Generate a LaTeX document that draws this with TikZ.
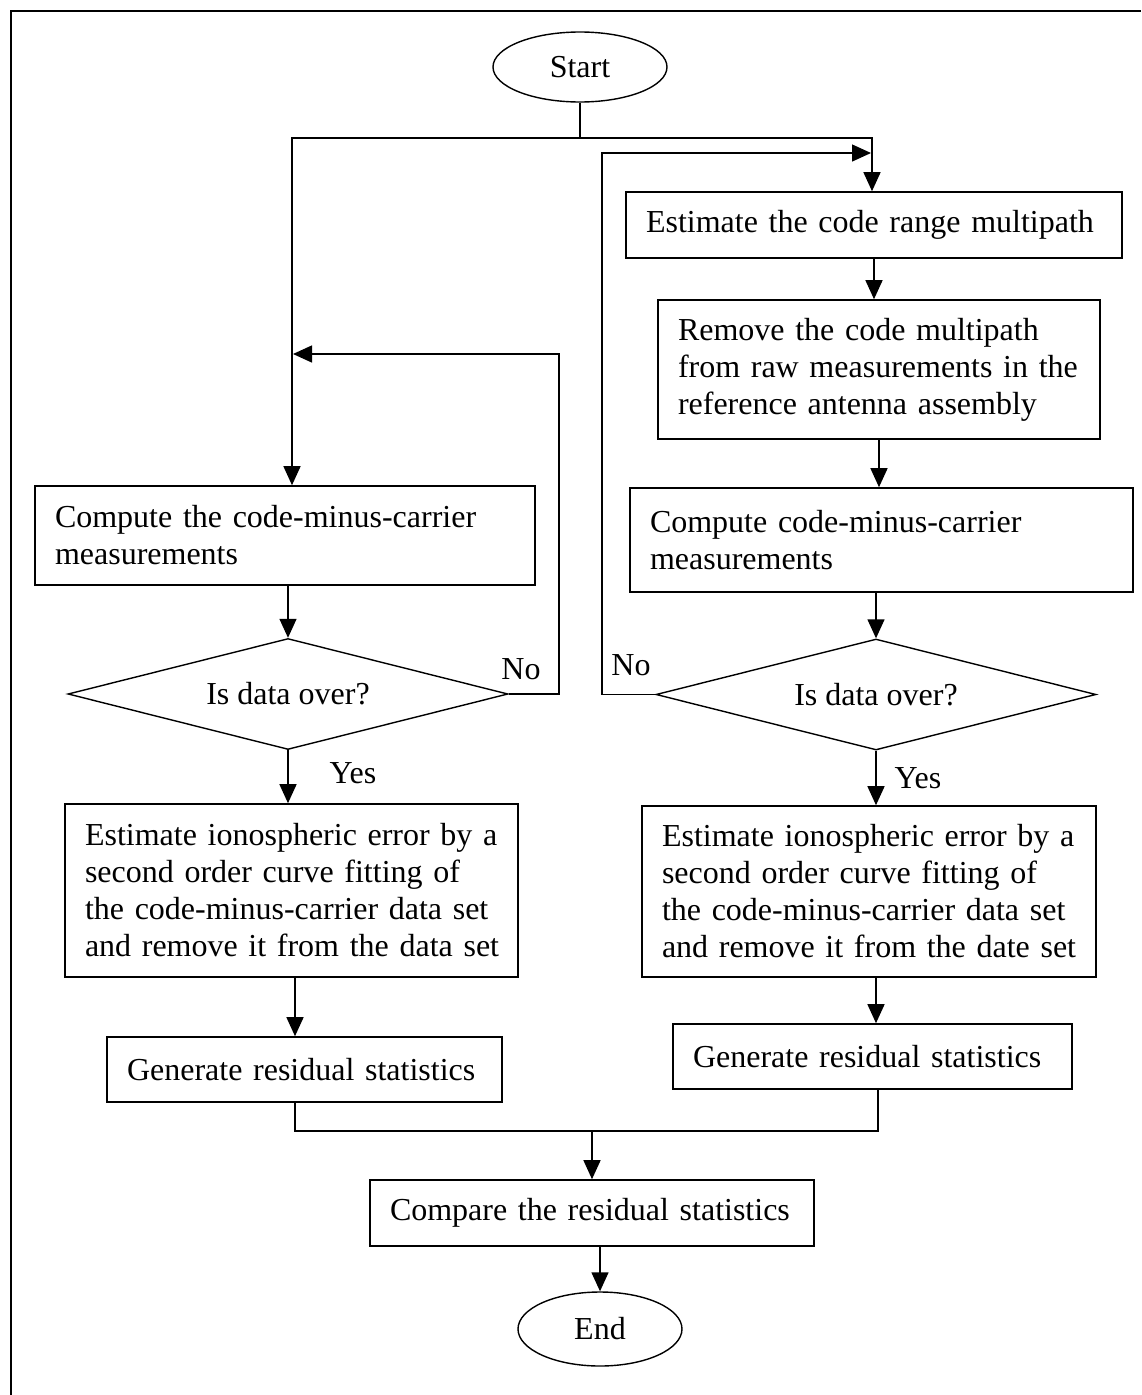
\documentclass[tikz,border=0pt]{standalone}
\usepackage{fontspec}
\setmainfont{Liberation Serif}
\usetikzlibrary{shapes.geometric,arrows.meta}
% text face of the chart: 32pt, word gaps of a quarter em
\newcommand\chartfont{\fontsize{32pt}{37pt}\selectfont\spaceskip=8pt\relax}
% one unbreakable, unstretched line of box text
\newcommand\boxline[1]{\mbox{#1}}
\begin{document}
\begin{tikzpicture}[x=1pt,y=-1pt,
  every node/.style={font=\chartfont},
  proc/.style={draw,line width=1.6pt,rectangle,align=left,inner xsep=20pt,inner ysep=0pt},
  term/.style={draw,line width=1.4pt,ellipse,inner sep=0pt},
  test/.style={draw,line width=1.4pt,diamond,shape aspect=4,inner sep=0pt,minimum width=440pt,minimum height=111pt},
  lbl/.style={inner sep=0pt},
  flow/.style={line width=1.4pt,-{Triangle[length=19pt,width=17pt]}},
  link/.style={line width=1.4pt}]
\useasboundingbox (0,0) rectangle (1141,1395);
% page frame (top and left edges)
\draw[line width=2pt] (11,1395) -- (11,11) -- (1141,11);

% terminals
\node[term,minimum width=174pt,minimum height=70pt] (start) at (580,67) {Start};
\node[term,minimum width=164pt,minimum height=74pt] (end) at (600,1329) {End};

% right branch
\node[proc,text width=456pt,minimum height=66pt] (R1) at (874,225) {\boxline{Estimate the code range multipath}};
\node[proc,text width=402pt,minimum height=139pt] (R2) at (879,369.5) {\boxline{Remove the code multipath}\\\boxline{from raw measurements in the}\\\boxline{reference antenna assembly}};
\node[proc,text width=463pt,minimum height=104pt] (R3) at (881.5,540) {\boxline{Compute code-minus-carrier}\\\boxline{measurements}};
\node[test] (DR) at (876,694.5) {Is data over?};
\node[proc,text width=414pt,minimum height=171pt] (R4) at (869,891.5) {\boxline{Estimate ionospheric error by a}\\\boxline{second order curve fitting of}\\\boxline{the code-minus-carrier data set}\\\boxline{and remove it from the date set}};
\node[proc,text width=359pt,minimum height=65pt] (R5) at (872.5,1056.5) {\boxline{Generate residual statistics}};

% left branch
\node[proc,text width=460pt,minimum height=99pt] (L1) at (285,535.5) {\boxline{Compute the code-minus-carrier}\\\boxline{measurements}};
\node[test] (DL) at (288,694) {Is data over?};
\node[proc,text width=413pt,minimum height=173pt] (L4) at (291.5,890.5) {\boxline{Estimate ionospheric error by a}\\\boxline{second order curve fitting of}\\\boxline{the code-minus-carrier data set}\\\boxline{and remove it from the data set}};
\node[proc,text width=355pt,minimum height=65pt] (L5) at (304.5,1069.5) {\boxline{Generate residual statistics}};

% final comparison
\node[proc,text width=404pt,minimum height=66pt] (CMP) at (592,1213) {\boxline{Compare the residual statistics}};

% decision labels
\node[lbl] (noL) at (521,669) {No};
\node[lbl] (noR) at (631,665) {No};
\node[lbl] (yesL) at (353,773) {Yes};
\node[lbl] (yesR) at (918,778) {Yes};

% routing points
\coordinate (split) at (580,138);
\coordinate (lcol) at (292,138);
\coordinate (rcol) at (872,138);
\coordinate (lret) at (559,354);
\coordinate (ljoin) at (293,354);
\coordinate (rret) at (602,153);
\coordinate (rjoin) at (871,153);
\coordinate (lbot) at (295,1131);
\coordinate (rbot) at (878,1131);
\coordinate (rmid) at (876,0);

% fork after Start
\draw[link] (start.south) -- (split);
\draw[flow] (split) -| (L1.north -| lcol);
\draw[flow] (split) -| (R1.north -| rcol);

% right chain
\draw[flow] (R1.south) -- (R1.south |- R2.north);
\draw[flow] (R2.south) -- (R2.south |- R3.north);
\draw[flow] (R3.south -| DR.north) -- (DR.north);
\draw[flow] (DR.south) -- (DR.south |- R4.north);
\draw[flow] (R4.south -| rmid) -- (R5.north -| rmid);
\draw[flow] (DR.west) -| (rret) -- (rjoin);

% left chain
\draw[flow] (L1.south -| DL.north) -- (DL.north);
\draw[flow] (DL.south) -- (DL.south |- L4.north);
\draw[flow] (L4.south -| lbot) -- (L5.north -| lbot);
\draw[flow] (DL.east) -| (lret) -- (ljoin);

% merge and finish
\draw[link] (L5.south -| lbot) -- (lbot) -- (rbot) -- (R5.south -| rbot);
\draw[flow] (CMP.north |- lbot) -- (CMP.north);
\draw[flow] (CMP.south -| end.north) -- (end.north);
\end{tikzpicture}
\end{document}
